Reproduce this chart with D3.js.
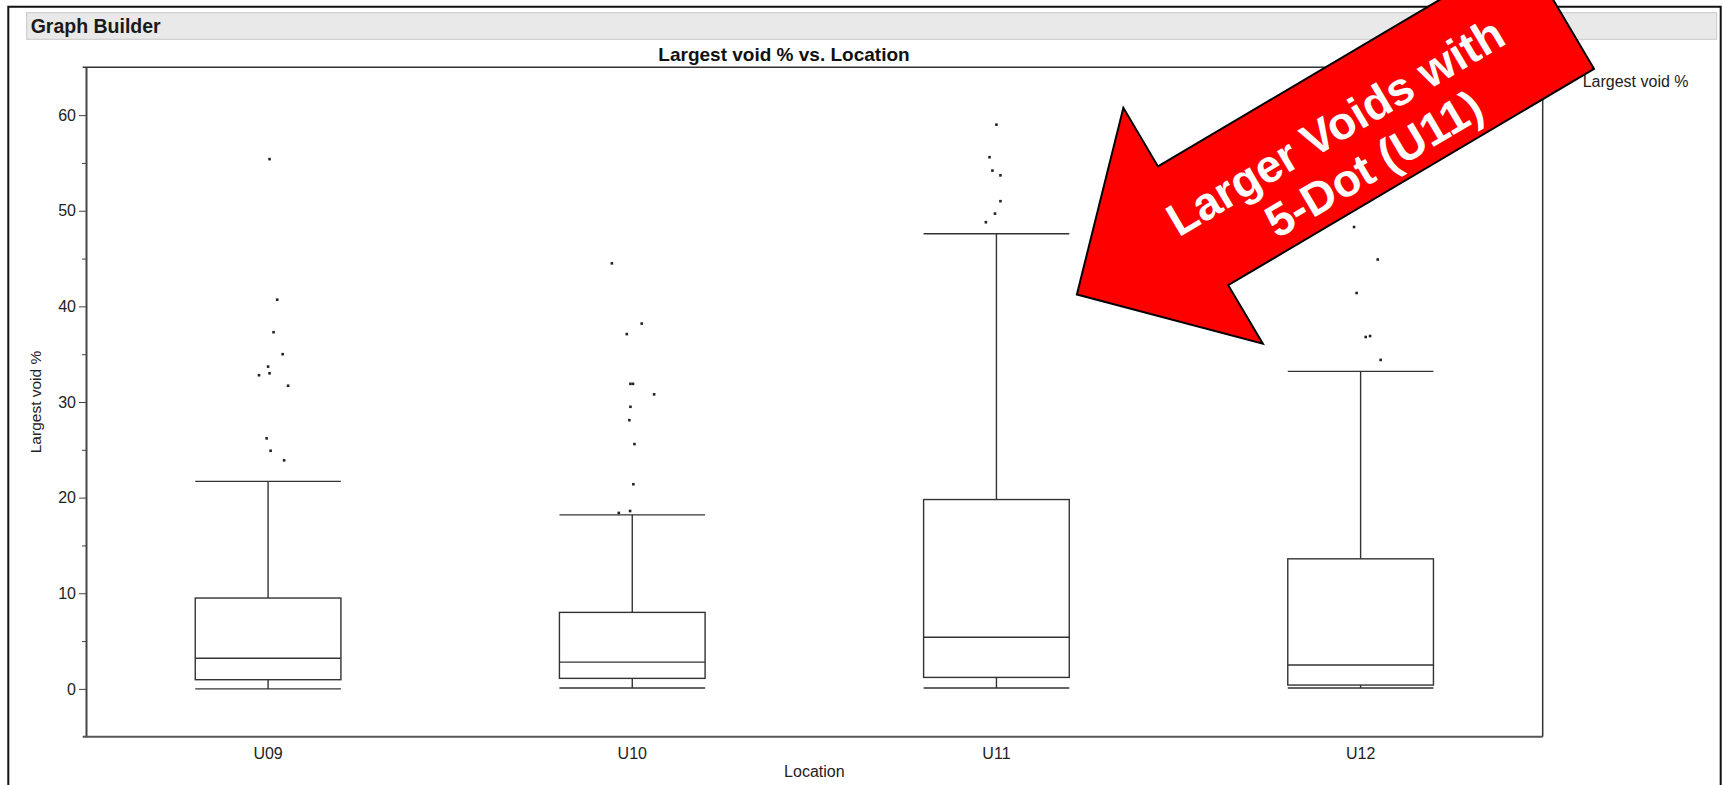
<!DOCTYPE html>
<meta charset="utf-8">
<style>
body { margin: 0; background: #fff; }
svg { display: block; font-family: "Liberation Sans", Arial, sans-serif; }
.box line, .box rect { stroke: #333; stroke-width: 1.4px; fill: none; }
.axis path, .axis line { stroke: #444; }
.axis text { font-size: 16px; fill: #222; }
</style>
<svg width="1723" height="785"></svg>
<script src="https://d3js.org/d3.v7.min.js"></script>
<script>
// box summary per location
var locations = ["U09", "U10", "U11", "U12"];
var lowWhisker = [0, 0.1, 0.1, 0.1];
var q1 = [0.96, 1.1, 1.2, 0.4];
var median = [3.2, 2.8, 5.4, 2.5];
var q3 = [9.5, 8.0, 19.8, 13.6];
var highWhisker = [21.7, 18.2, 47.6, 33.2];

// outliers: value and horizontal jitter (fraction of band)
var outU09 = [55.4, 40.7, 37.3, 35.0, 33.7, 33.0, 32.8, 31.7, 26.2, 24.9, 23.9];
var jitU09 = [0.004, 0.025, 0.015, 0.04, 0, 0.004, -0.025, 0.055, -0.004, 0.007, 0.044];
var outU10 = [44.5, 38.2, 37.1, 31.9, 31.9, 30.8, 29.5, 28.1, 25.6, 21.4, 18.4, 18.6];
var jitU10 = [-0.056, 0.026, -0.015, -0.005, 0.002, 0.06, -0.005, -0.008, 0.006, 0.003, -0.037, -0.006];
var outU11 = [59.0, 55.6, 54.2, 53.7, 51.0, 49.7, 48.8];
var jitU11 = [0, -0.019, -0.011, 0.011, 0.011, -0.004, -0.029];
var outU12 = [48.3, 44.9, 41.4, 36.8, 36.9, 34.4];
var jitU12 = [-0.018, 0.047, -0.011, 0.014, 0.026, 0.055];

var majorTicks = [0, 10, 20, 30, 40, 50, 60];
var minorTicks = [5, 15, 25, 35, 45, 55];

var svg = d3.select("svg");

var x = d3.scaleBand().domain(locations).range([86, 1542.7]);
var y = d3.scaleLinear().domain([-5, 65]).range([736.7, 67.3]);

// outer frame + header
svg.append("path")
    .attr("d", "M8.3,790V6.7H1720.7V790")
    .attr("fill", "none")
    .attr("stroke", "#111")
    .attr("stroke-width", 2);

svg.append("rect")
    .attr("x", 26.7).attr("y", 12.7)
    .attr("width", 1690).attr("height", 26.6)
    .attr("fill", "#e9e9e9")
    .attr("stroke", "#c8c8c8");

svg.append("text")
    .attr("x", 30.7).attr("y", 33.3)
    .attr("font-size", "19.5px").attr("font-weight", "bold")
    .attr("fill", "#1a1a1a")
    .text("Graph Builder");

svg.append("text")
    .attr("x", 784).attr("y", 60.5)
    .attr("text-anchor", "middle")
    .attr("font-size", "19px").attr("font-weight", "bold")
    .attr("fill", "#111")
    .text("Largest void % vs. Location");

svg.append("text")
    .attr("x", 1582.7).attr("y", 87.3)
    .attr("font-size", "16px").attr("fill", "#222")
    .text("Largest void %");

// plot frame
svg.append("path")
    .attr("d", "M82.7," + y(65) + "H" + x.range()[1] + "V" + y(-5))
    .attr("fill", "none").attr("stroke", "#333").attr("stroke-width", 1.5);

svg.append("g")
    .attr("class", "axis")
    .attr("transform", "translate(86,0)")
    .call(d3.axisLeft(y).tickValues(majorTicks).tickSize(7).tickPadding(3).tickSizeOuter(0))
  .select(".domain").attr("stroke-width", 2);

svg.append("g")
    .attr("class", "axis")
    .attr("transform", "translate(86,0)")
    .call(d3.axisLeft(y).tickValues(minorTicks).tickSize(4).tickFormat(""))
  .select(".domain").remove();

svg.append("line")
    .attr("x1", 82.7).attr("x2", x.range()[1])
    .attr("y1", y(-5)).attr("y2", y(-5))
    .attr("stroke", "#555").attr("stroke-width", 2);

var xAxis = svg.append("g")
    .attr("class", "axis")
    .attr("transform", "translate(0," + y(-5) + ")")
    .call(d3.axisBottom(x).tickSize(0).tickPadding(11));
xAxis.select(".domain").remove();

svg.append("text")
    .attr("x", (x.range()[0] + x.range()[1]) / 2).attr("y", 777)
    .attr("text-anchor", "middle")
    .attr("font-size", "16px").attr("fill", "#222")
    .text("Location");

svg.append("text")
    .attr("transform", "translate(41," + y(30) + ") rotate(-90)")
    .attr("text-anchor", "middle")
    .attr("font-size", "15.5px").attr("fill", "#222")
    .text("Largest void %");

// boxes
var bw = x.bandwidth() * 0.4;
var rows = locations.map(function(d, i) {
  return {loc: d, lo: lowWhisker[i], q1: q1[i], med: median[i], q3: q3[i], hi: highWhisker[i]};
});

var box = svg.append("g").attr("class", "box")
  .selectAll("g")
  .data(rows)
  .enter().append("g")
    .attr("transform", function(d) { return "translate(" + (x(d.loc) + x.bandwidth() / 2) + ",0)"; });

box.append("line")
    .attr("y1", function(d) { return y(d.hi); })
    .attr("y2", function(d) { return y(d.q3); });
box.append("line")
    .attr("y1", function(d) { return y(d.q1); })
    .attr("y2", function(d) { return y(d.lo); });
box.append("rect")
    .attr("x", -bw / 2).attr("width", bw)
    .attr("y", function(d) { return y(d.q3); })
    .attr("height", function(d) { return y(d.q1) - y(d.q3); });
box.append("line")
    .attr("x1", -bw / 2).attr("x2", bw / 2)
    .attr("y1", function(d) { return y(d.med); })
    .attr("y2", function(d) { return y(d.med); });
box.append("line")
    .attr("x1", -bw / 2).attr("x2", bw / 2)
    .attr("y1", function(d) { return y(d.hi); })
    .attr("y2", function(d) { return y(d.hi); });
box.append("line")
    .attr("x1", -bw / 2).attr("x2", bw / 2)
    .attr("y1", function(d) { return y(d.lo); })
    .attr("y2", function(d) { return y(d.lo); });

// outlier points
var outliers = [];
[[outU09, jitU09], [outU10, jitU10], [outU11, jitU11], [outU12, jitU12]].forEach(function(p, i) {
  p[0].forEach(function(v, j) { outliers.push({loc: locations[i], v: v, j: p[1][j]}); });
});

svg.append("g")
  .selectAll("rect")
  .data(outliers)
  .enter().append("rect")
    .attr("x", function(d) { return x(d.loc) + x.bandwidth() * (0.5 + d.j) - 1.3; })
    .attr("y", function(d) { return y(d.v) - 1.3; })
    .attr("width", 2.6).attr("height", 2.6)
    .attr("fill", "#222");

// red callout arrow (drawn in its own frame, tip at origin, pointing back along +x)
var arrowTip = [1076.9, 294.5], arrowAngle = -30.6;
var headLen = 135, headHalf = 137, shaftHalf = 69, arrowLen = 560;
var callout = svg.append("g")
    .attr("transform", "translate(" + arrowTip + ") rotate(" + arrowAngle + ")");

callout.append("path")
    .attr("d", d3.line()([
      [0, 0], [headLen, -headHalf], [headLen, -shaftHalf], [arrowLen, -shaftHalf],
      [arrowLen, shaftHalf], [headLen, shaftHalf], [headLen, headHalf]
    ]) + "Z")
    .attr("fill", "#ff0000")
    .attr("stroke", "#000")
    .attr("stroke-width", 2)
    .attr("stroke-linejoin", "miter");

callout.append("text")
    .attr("x", 308).attr("y", -13.7).attr("dy", "0.36em")
    .attr("text-anchor", "middle")
    .attr("font-size", "46px").attr("font-weight", "bold")
    .attr("fill", "#fff")
    .text("Larger Voids with");

callout.append("text")
    .attr("x", 322).attr("y", 38).attr("dy", "0.36em")
    .attr("text-anchor", "middle")
    .attr("font-size", "46px").attr("font-weight", "bold")
    .attr("fill", "#fff")
    .text("5-Dot (U11)");
</script>
